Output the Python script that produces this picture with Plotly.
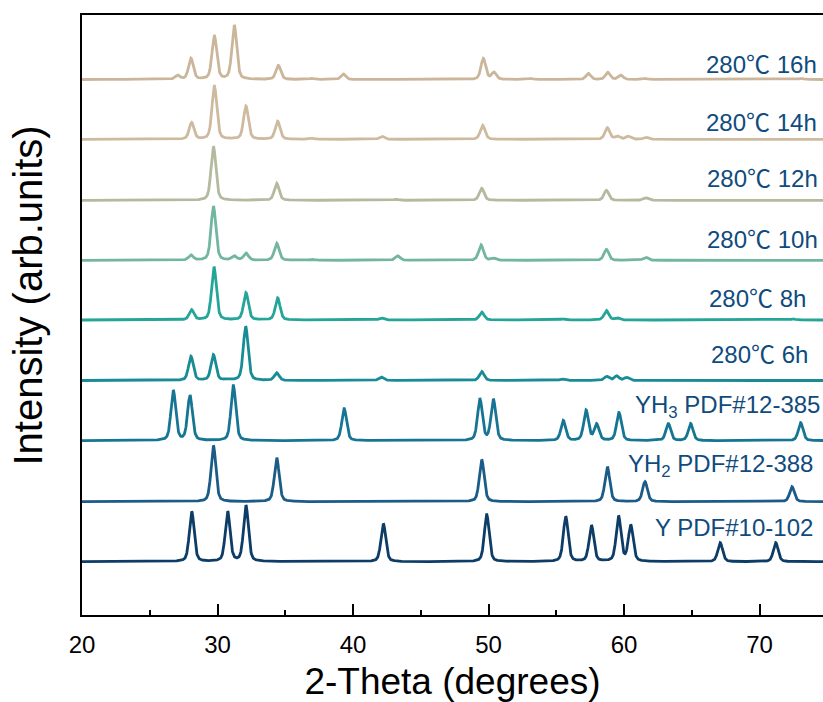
import numpy as np
import plotly.graph_objects as go

# ---------------- data ----------------
two_theta = np.arange(20.0, 75.001, 0.02)

deg_c = '<span style="font-family:Noto Sans CJK SC">℃</span>'
labels = ["Y PDF#10-102", "YH<sub>2</sub> PDF#12-388", "YH<sub>3</sub> PDF#12-385",
          "280" + deg_c + " 6h", "280" + deg_c + " 8h", "280" + deg_c + " 10h",
          "280" + deg_c + " 12h", "280" + deg_c + " 14h", "280" + deg_c + " 16h"]

# vertical stacking offsets (arb. units)
offsets = [53.3, 113.3, 174.3, 234.5, 295.0, 354.7, 414.7, 475.7, 535.5]

y_pos = [28.1, 30.75, 32.1, 42.24, 49.87, 55.7, 57.6, 59.6, 60.5, 67.1, 71.2]
y_int = [50, 50, 56, 38, 47, 45, 36, 45, 36, 19, 19]

yh2_pos = [29.7, 34.37, 49.5, 58.77, 61.55, 72.4]
yh2_int = [56, 44, 42, 35, 20, 15]

yh3_pos = [26.74, 27.97, 31.17, 39.35, 49.37, 50.36, 55.52, 57.2, 57.98, 59.63, 63.27, 64.92, 73.04]
yh3_int = [50, 45, 55, 32, 41, 41, 20, 30, 16, 28, 17, 17, 18]

h6_pos = [28.04, 29.7, 30.75, 32.08, 34.37, 42.07, 49.5, 55.45, 58.72, 59.46, 60.2]
h6_int = [24, 25.5, 1, 54, 7.5, 3.5, 9, 1.5, 4, 4.5, 3]

h8_pos = [28.09, 29.74, 32.1, 34.44, 42.1, 49.5, 55.5, 58.7, 59.5, 72.5]
h8_int = [10, 53, 27, 22, 2, 8, 1, 9.5, 2, 1]

h10_pos = [28.04, 29.7, 31.24, 32.1, 34.37, 36.95, 43.3, 49.45, 50.35, 58.7, 61.6]
h10_int = [5, 54, 4, 7, 17, 1, 4.5, 15.5, 2, 11, 3]

h12_pos = [29.7, 34.37, 40.15, 43.2, 49.5, 58.7, 61.6]
h12_int = [54, 17, 0.6, 1, 12, 10, 2.5]

h14_pos = [28.09, 29.77, 32.1, 34.44, 36.95, 42.12, 49.57, 58.77, 59.5, 60.3, 61.6]
h14_int = [16.5, 53, 33, 18, 1, 3, 14, 11.5, 3, 3, 2]

h16_pos = [27.06, 28.04, 29.77, 31.24, 34.49, 36.95, 39.29, 49.62, 50.4, 53.1, 57.37, 58.8, 59.76, 61.55, 73.1]
h16_int = [4, 21, 43, 54, 14, 1, 5.5, 21, 7, 1, 6, 7, 4.3, 1, 1]

x_ticks = [20, 30, 40, 50, 60, 70]

# ---------------- style ----------------
colors = ["#0D3C66", "#1A5C87", "#167593", "#188C95", "#24A597",
          "#72B6A2", "#B3BA9E", "#CDBA9F", "#CBB69B"]
label_dy = [34.4, 36.7, 34.0, 27.8, 23.3, 23.3, 23.6, 18.6, 16.5]
label_xr = [815, 815, 822, 810, 808, 820, 820, 819, 819]

all_pos = [y_pos, yh2_pos, yh3_pos, h6_pos, h8_pos, h10_pos, h12_pos, h14_pos, h16_pos]
all_int = [y_int, yh2_int, yh3_int, h6_int, h8_int, h10_int, h12_int, h14_int, h16_int]

FWHM = 0.42
ETA = 0.4


def profile(x, pos, ints):
    out = np.zeros_like(x)
    g = FWHM / 2.0
    s = FWHM / (2 * np.sqrt(2 * np.log(2)))
    for p, a in zip(pos, ints):
        lor = 1.0 / (1.0 + ((x - p) / g) ** 2)
        gau = np.exp(-0.5 * ((x - p) / s) ** 2)
        out += a * (ETA * lor + (1 - ETA) * gau)
    return out


W, H = 823, 702
L, R, T, B = 82, 0, 15, 87
plot_w = W - L - R
plot_h = H - T - B
px_per_deg = 13.55
x_end = 20 + plot_w / px_per_deg

fig = go.Figure()
for i in range(len(labels)):
    fig.add_trace(go.Scatter(
        x=two_theta, y=profile(two_theta, all_pos[i], all_int[i]) + offsets[i],
        mode="lines", line=dict(color=colors[i], width=2.8),
        showlegend=False, hoverinfo="skip"))
    fig.add_annotation(
        x=(label_xr[i] - L) / plot_w, xref="paper", xanchor="right",
        y=(offsets[i] + label_dy[i]) / 600, yref="paper", yanchor="middle",
        text=labels[i], showarrow=False,
        font=dict(family="Arial, Liberation Sans, Noto Sans CJK SC", size=24, color="#0F4B7E"))

# y-axis title as a rotated annotation (centred like the reference)
fig.add_annotation(
    x=(27.5 - L) / plot_w, xref="paper", xanchor="center",
    y=(T + plot_h - 296) / plot_h, yref="paper", yanchor="middle",
    text="Intensity (arb.units)", textangle=-90, showarrow=False,
    font=dict(family="Arial, Liberation Sans, sans-serif", size=40, color="black"))

fig.update_layout(
    width=W, height=H,
    margin=dict(l=L, r=R, t=T, b=B, autoexpand=False),
    paper_bgcolor="white", plot_bgcolor="white",
    font=dict(family="Arial, Liberation Sans, sans-serif", color="black"),
    xaxis=dict(
        range=[20, x_end], tickvals=x_ticks, ticks="inside", ticklen=11, tickwidth=2,
        tickcolor="black", showline=True, linecolor="black", linewidth=2, mirror=True,
        showgrid=False, zeroline=False, automargin=False, ticklabelstandoff=7,
        minor=dict(ticks="inside", ticklen=5, tickwidth=2, tickcolor="black", dtick=5, tick0=20, showgrid=False),
        tickfont=dict(size=24, color="black"),
        title=dict(text="2-Theta (degrees)", font=dict(size=37, color="black"), standoff=19),
    ),
    yaxis=dict(
        range=[0, 600], showline=True, linecolor="black", linewidth=2, mirror=False,
        showticklabels=False, ticks="", showgrid=False, zeroline=False, automargin=False,
    ),
)

fig.write_html("out.html", config={"displayModeBar": False},
               post_script="document.body.style.margin='0';document.body.style.overflow='hidden';")
